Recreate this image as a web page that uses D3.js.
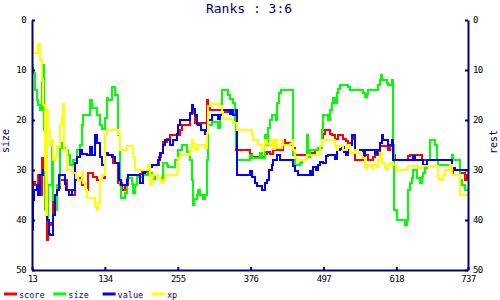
<!DOCTYPE html>
<html>
<head>
<meta charset="utf-8">
<script src="https://cdn.jsdelivr.net/npm/d3@7"></script>
<style>
  body { margin: 0; background: #fff; }
  svg { display: block; }
  text { font-family: "DejaVu Sans Mono", monospace; }
</style>
</head>
<body>
<svg id="chart" width="500" height="300"></svg>
<script>
// step change points [x, rank]
const score = [[13,37],[15,32.3],[18,33],[23,31],[25,34],[26,35],[30,27.5],[31,29],[33,30.5],[35,35],[36,38],[38,44],[40,40.5],[43,41],[46,40.5],[48,36],[51,35],[55,33.5],[59,32],[71,34],[79,35],[84,32],[89,31.5],[96,33],[101,34],[106,30.5],[114,31.3],[121,32],[129,31.5],[134,26.5],[138,27],[148,28.5],[156,32.5],[162,34],[167,33],[172,31],[192,30.7],[196,30.3],[209,29],[224,27.3],[227,26.5],[231,24.3],[237,23.7],[242,22.9],[259,22],[262,20.9],[275,18.7],[279,17.5],[280,18.5],[284,20.5],[304,16],[305,17.5],[309,17.9],[330,18.3],[347,18.9],[352,26],[375,26.7],[378,27.3],[400,26.8],[403,26.3],[408,26.7],[413,26],[430,24],[433,24.5],[441,25],[446,25.5],[450,27],[470,27.3],[475,26.5],[483,26],[491,25.2],[495,23.7],[496,22.7],[500,21.9],[508,22.7],[511,22.9],[516,23.7],[521,22.9],[529,23.7],[534,24.1],[538,25],[541,24.5],[544,23.7],[546,23],[549,28],[566,27],[571,28],[579,27.3],[583,27],[588,26.3],[591,25.2],[604,26],[608,25.2],[612,27],[616,28],[637,27.2],[640,27],[660,28],[710,30],[712,31],[724,30.5],[732,32],[735,31],[737,31]];

const size = [[13,9],[15,10.5],[18,14],[21,16],[23,17],[26,18],[30,12],[31,9],[33,22],[35,38],[38,40],[40,33],[46,24],[48,36],[51,38],[55,33],[59,24.5],[63,25.5],[68,26],[73,27],[76,29],[81,28],[88,26],[93,25],[96,21],[98,19],[109,16],[113,17.5],[121,19],[126,21],[129,21.7],[134,19.5],[138,15.5],[139,16],[146,13.3],[151,15],[156,23],[159,33],[161,35.5],[167,34.5],[171,31.5],[176,31.5],[179,32.7],[181,34.5],[184,33],[187,31.3],[197,31],[206,30.5],[212,31.7],[217,31],[222,31.5],[229,32.5],[231,28.5],[237,29],[239,29.3],[250,28],[255,26],[262,25],[270,26.3],[275,28],[279,32],[280,37],[282,35.7],[287,35],[289,34],[292,35],[297,35.7],[300,35],[304,28],[305,21],[312,20.3],[322,21.5],[325,19],[328,13.9],[338,15],[342,15.7],[347,16.5],[350,20],[352,25.3],[354,28],[375,27],[378,27.5],[392,26.5],[395,27.5],[400,23],[403,25],[405,21.5],[408,20],[412,19],[413,18.9],[418,19.9],[420,16.5],[423,14.5],[426,13.9],[446,27],[450,29],[458,28.5],[461,28],[470,23],[471,27.3],[475,26],[488,25.5],[495,22],[496,18.9],[505,19.9],[508,18],[511,16.5],[513,15.5],[516,16.5],[519,14.5],[521,13.7],[524,12.9],[538,13.3],[541,13.9],[563,14.5],[566,15.3],[569,14.7],[571,13.9],[587,13],[591,11.9],[592,10.9],[594,11.9],[602,12.5],[604,12.9],[611,11.9],[612,25],[614,38],[619,40],[632,41],[636,40],[637,34],[641,32.5],[644,31.5],[646,30],[652,31.5],[657,32.5],[661,31.3],[662,30.5],[666,29.5],[669,28],[674,24],[677,23.9],[682,25],[686,28],[687,29],[710,27],[712,28],[724,32],[727,33],[732,34],[737,34]];

const value = [[13,42],[15,36],[16,34],[21,33],[23,35],[26,31],[31,30],[36,38.7],[38,40],[41,42.7],[43,43],[48,39],[51,35],[55,34],[58,31],[68,32.7],[69,34],[74,35],[79,34],[84,28.5],[88,27.3],[93,26],[96,26.7],[104,27],[109,25.3],[113,27],[118,23],[121,24.5],[126,27.3],[129,29],[134,26.5],[139,27],[146,27.3],[151,28.5],[157,32],[161,33],[171,32],[172,31],[192,32.5],[197,30.5],[201,30],[209,29.3],[212,29],[222,28],[226,26.5],[231,25],[234,24],[242,25],[247,24],[254,22.7],[255,21],[259,19.9],[275,18.5],[279,17],[280,17.8],[284,19],[287,20.7],[289,21],[294,21.9],[300,22.7],[304,21],[305,20],[312,19],[314,18.9],[322,19.7],[325,18.9],[330,18],[342,18.7],[345,17.9],[347,18.9],[352,17.9],[353,31],[375,30.1],[378,31.3],[383,32.5],[387,33.1],[395,34],[400,32.5],[403,32],[407,30],[412,29],[413,28],[420,27],[425,28],[446,29.2],[450,30.1],[455,31],[475,30.1],[478,31],[480,29.3],[485,30],[488,29],[491,28.3],[496,28.5],[501,27.1],[505,27],[516,27.7],[519,26],[524,25.8],[528,25.3],[531,26.3],[534,27],[538,26],[541,25],[544,23],[549,26],[563,27],[566,26],[583,26.7],[586,26],[591,24.5],[594,22.9],[596,23.9],[604,25],[611,23.9],[612,28],[646,27.2],[649,28],[662,29],[669,28],[710,29.5],[715,30],[737,30]];

const xp = [[13,4],[15,6.5],[23,4.7],[26,8],[30,12],[31,17],[35,30],[36,39],[38,18],[40,22],[43,25],[46,24],[48,28],[51,27.3],[55,25.3],[59,21],[63,19],[64,16.7],[66,26],[71,30],[81,30.5],[86,31.5],[89,32],[96,30.3],[98,32.5],[101,34],[104,35.5],[118,37.3],[121,38],[123,36.5],[126,32],[129,31],[134,22.7],[138,21.9],[156,22.7],[159,26],[171,25.2],[181,27.3],[184,30],[206,29],[209,33],[212,31],[222,31.5],[226,32],[229,32.5],[231,32],[234,31],[254,30.5],[255,27.5],[259,27],[275,25.5],[279,24],[280,24.5],[284,26],[287,25.7],[289,25],[300,25.5],[304,22.5],[305,17.2],[309,17],[312,16.8],[325,17.2],[328,18.3],[330,19.7],[347,20.5],[354,21.9],[378,22.7],[380,23.9],[388,25],[395,26],[400,23.9],[403,24.8],[408,25],[412,23.9],[413,25.8],[416,23.9],[420,25.5],[428,23.9],[430,25],[441,24.7],[445,23.9],[446,26],[450,27.5],[453,28],[470,27],[491,25.2],[495,23.9],[516,25.2],[519,26],[521,25.2],[529,26],[536,25],[541,26.5],[549,26],[554,26.5],[561,27.5],[566,29.5],[569,29],[577,29.8],[579,29],[586,29.3],[587,28],[591,26.5],[594,28.5],[599,29.5],[602,30],[604,29],[608,28.5],[612,29],[619,30],[637,29.1],[654,29.5],[660,29.1],[687,31.5],[690,32],[695,31],[699,30],[707,29],[710,31],[724,35],[737,35]];

const seriesNames = ['score', 'size', 'value', 'xp'];
const seriesColors = ['#ff0000', '#00ff00', '#0000ff', '#ffff00'];
const xTicks = [13, 134, 255, 376, 497, 618, 737];
const yTicks = [0, 10, 20, 30, 40, 50];

const navy = '#000080';
const svg = d3.select('#chart');
const plotLeft = 32, plotRight = 468, plotTop = 20, plotBottom = 270;

const x = d3.scaleLinear().domain([13, 737]).range([plotLeft, plotRight]);
const y = d3.scaleLinear().domain([0, 50]).range([plotTop, plotBottom]);

// lines first, axes drawn over them
const line = d3.line()
    .x(d => x(d[0]))
    .y(d => y(d[1]))
    .curve(d3.curveStepAfter);

[score, size, value, xp].forEach((data, i) => {
    svg.append('path')
        .datum(data)
        .attr('d', line)
        .attr('fill', 'none')
        .attr('stroke', seriesColors[i])
        .attr('stroke-width', 2)
        .attr('shape-rendering', 'crispEdges');
});

function styleAxis(g) {
    g.select('.domain').attr('stroke', navy).attr('stroke-width', 2);
    g.selectAll('.tick line').attr('stroke', navy).attr('stroke-width', 2);
    g.selectAll('.tick text').attr('fill', '#000').style('font-size', '9px')
        .style('letter-spacing', '-0.6px')
        .style('font-family', '"DejaVu Sans Mono", monospace');
}

svg.append('g')
    .attr('transform', `translate(${plotLeft},0)`)
    .call(d3.axisLeft(y).tickValues(yTicks).tickSize(-3).tickSizeOuter(0).tickPadding(6))
    .call(styleAxis);

svg.append('g')
    .attr('transform', `translate(${plotRight},0)`)
    .call(d3.axisRight(y).tickValues(yTicks).tickSize(-3).tickSizeOuter(0).tickPadding(5))
    .call(styleAxis);

svg.append('g')
    .attr('transform', `translate(0,${plotBottom})`)
    .call(d3.axisBottom(x).tickValues(xTicks).tickSize(-3).tickSizeOuter(0).tickPadding(6))
    .call(styleAxis);

svg.append('text')
    .attr('x', 249).attr('y', 13)
    .attr('text-anchor', 'middle')
    .attr('fill', navy)
    .style('font-size', '13px')
    .text('Ranks : 3:6');

svg.append('text')
    .attr('transform', 'translate(9,141) rotate(-90)')
    .attr('text-anchor', 'middle')
    .attr('fill', navy)
    .style('font-size', '10px')
    .text('size');

svg.append('text')
    .attr('transform', 'translate(497,142) rotate(-90)')
    .attr('text-anchor', 'middle')
    .attr('fill', navy)
    .style('font-size', '10px')
    .text('rest');

// legend along the bottom
const legend = svg.append('g').attr('transform', 'translate(4,294)');
seriesNames.forEach((name, i) => {
    const item = legend.append('g').attr('transform', `translate(${i * 49.3},0)`);
    item.append('line')
        .attr('x1', 0).attr('x2', 13)
        .attr('stroke', seriesColors[i])
        .attr('stroke-width', 3);
    item.append('text')
        .attr('x', 15).attr('y', 3.5)
        .attr('fill', navy)
        .style('font-size', '8.5px')
        .text(name);
});
</script>
</body>
</html>
